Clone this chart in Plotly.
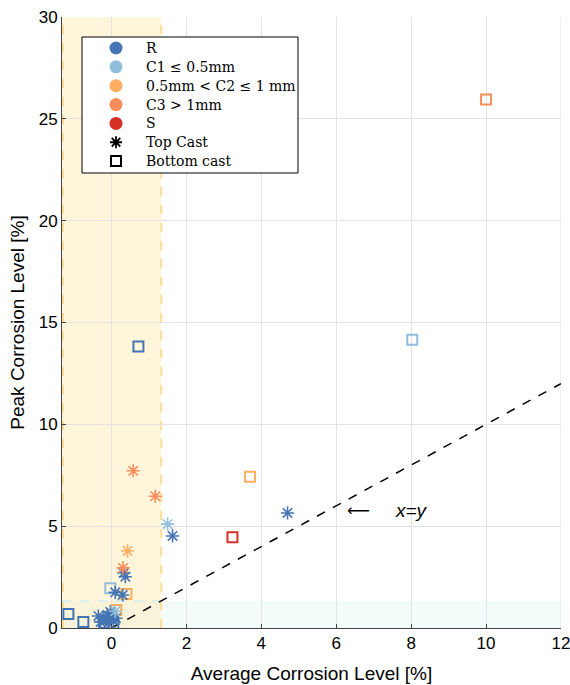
import plotly.graph_objects as go

# ---- data ----
categories = ["R", "C1", "C2", "C3", "S"]
legend_labels = ["R", "C1 ≤ 0.5mm", "0.5mm < C2 ≤ 1 mm", "C3 > 1mm", "S"]
colors = ["#4575b4", "#91bfdb", "#fdae61", "#fc8d59", "#d73027"]

# Top cast (asterisks): average, peak
top_R_x = [4.70, 1.63, 0.33, 0.37, 0.10, 0.30, -0.35, -0.29, -0.11, -0.03, 0.03, -0.16, -0.08, -0.21, 0.05, 0.12]
top_R_y = [5.65, 4.52, 2.70, 2.52, 1.75, 1.62, 0.59, 0.30, 0.64, 0.79, 0.54, 0.39, 0.25, 0.45, 0.35, 0.48]
top_C1_x = [1.50, 0.10]
top_C1_y = [5.10, 0.82]
top_C2_x = [0.43]
top_C2_y = [3.79]
top_C3_x = [0.58, 1.17, 0.31]
top_C3_y = [7.72, 6.47, 2.95]
top_S_x = []
top_S_y = []

# Bottom cast (squares)
bot_R_x = [0.72, -1.15, -0.75, -0.20, 0.05]
bot_R_y = [13.82, 0.69, 0.30, 0.25, 0.22]
bot_C1_x = [8.03, -0.03]
bot_C1_y = [14.15, 1.95]
bot_C2_x = [3.70, 0.40, 0.13]
bot_C2_y = [7.43, 1.67, 0.88]
bot_C3_x = [10.00]
bot_C3_y = [25.95]
bot_S_x = [3.23]
bot_S_y = [4.45]

identity_x = [0, 12]
identity_y = [0, 12]
threshold = 1.33
x_range = [-1.32, 12.0005]
y_range = [0, 30]
x_ticks = [0, 2, 4, 6, 8, 10, 12]
y_ticks = [0, 5, 10, 15, 20, 25, 30]

top = {"R": (top_R_x, top_R_y), "C1": (top_C1_x, top_C1_y), "C2": (top_C2_x, top_C2_y),
       "C3": (top_C3_x, top_C3_y), "S": (top_S_x, top_S_y)}
bot = {"R": (bot_R_x, bot_R_y), "C1": (bot_C1_x, bot_C1_y), "C2": (bot_C2_x, bot_C2_y),
       "C3": (bot_C3_x, bot_C3_y), "S": (bot_S_x, bot_S_y)}

# ---- layout constants (pixels) ----
W, H = 570, 685
ML, MR, MT, MB = 62, 9, 17, 57
PX0, PX1 = ML, W - MR          # plot area in pixels
PY0, PY1 = MT, H - MB
LEG_BOX = (82, 298, 37, 173)    # x0, x1, y0, y1
LEG_MX, LEG_TX = 116, 144
LEG_ROW0, LEG_DY = 48, 18.85

fig = go.Figure()

# shaded regions
fig.add_shape(type="rect", xref="x", yref="y", x0=x_range[0], x1=x_range[1], y0=0, y1=threshold,
              fillcolor="rgba(205,235,238,0.22)", line=dict(width=0), layer="below")
fig.add_shape(type="rect", xref="x", yref="y", x0=x_range[0], x1=threshold, y0=y_range[0], y1=y_range[1],
              fillcolor="rgba(254,232,175,0.45)", line=dict(width=0), layer="below")
fig.add_shape(type="line", xref="x", yref="y", x0=threshold, x1=threshold, y0=0, y1=30,
              line=dict(color="#fddc98", width=2, dash="dash"), layer="below")
fig.add_shape(type="line", xref="x", yref="y", x0=x_range[0] + 0.02, x1=x_range[0] + 0.02, y0=0, y1=30,
              line=dict(color="#fddc98", width=2.5, dash="dash"), layer="below")
fig.add_shape(type="line", xref="x", yref="y", x0=x_range[0], x1=threshold, y0=threshold, y1=threshold,
              line=dict(color="#dcefef", width=2, dash="dash"), layer="below")
# right-edge grid line (plotly skips the grid line on the range edge)
fig.add_shape(type="line", xref="x", yref="paper", x0=x_ticks[-1], x1=x_ticks[-1], y0=0, y1=1,
              line=dict(color="#e3e3e3", width=1), layer="below")

# identity line
fig.add_trace(go.Scatter(x=identity_x, y=identity_y, mode="lines",
                         line=dict(color="black", width=1.5, dash="dash"),
                         showlegend=False, hoverinfo="skip"))

for cat, col in zip(categories, colors):
    bx, by = bot[cat]
    fig.add_trace(go.Scatter(x=bx, y=by, mode="markers", showlegend=False,
                             marker=dict(symbol="square-open", size=10, color=col,
                                         line=dict(width=2, color=col))))
for cat, col in zip(categories, colors):
    tx, ty = top[cat]
    fig.add_trace(go.Scatter(x=tx, y=ty, mode="markers", showlegend=False,
                             marker=dict(symbol="asterisk-open", size=11, color=col,
                                         line=dict(width=1.6, color=col))))

# ---- manual legend on an overlay pixel axis ----
bx0, bx1, by0, by1 = LEG_BOX
fig.add_trace(go.Scatter(x=[bx0, bx1, bx1, bx0, bx0], y=[by0, by0, by1, by1, by0],
                         xaxis="x2", yaxis="y2", mode="lines", fill="toself",
                         fillcolor="white", line=dict(color="black", width=1),
                         showlegend=False, hoverinfo="skip"))
leg_items = legend_labels + ["Top Cast", "Bottom cast"]
leg_colors = colors + ["black", "black"]
leg_symbols = ["circle"] * 5 + ["asterisk-open", "square-open"]
for i, (lab, col, sym) in enumerate(zip(leg_items, leg_colors, leg_symbols)):
    yy = LEG_ROW0 + i * LEG_DY
    if sym == "circle":
        mk = dict(symbol=sym, size=13, color=col, line=dict(width=0))
    elif sym == "asterisk-open":
        mk = dict(symbol=sym, size=10, color=col, line=dict(width=1.8, color=col))
    else:
        mk = dict(symbol=sym, size=10, color=col, line=dict(width=2, color=col))
    fig.add_trace(go.Scatter(x=[LEG_MX], y=[yy], xaxis="x2", yaxis="y2", mode="markers",
                             marker=mk, showlegend=False, hoverinfo="skip"))
    fig.add_annotation(x=LEG_TX, y=yy, xref="x2", yref="y2", text=lab, showarrow=False,
                       xanchor="left", yanchor="middle",
                       font=dict(family="DejaVu Serif", size=14, color="black"))

fig.add_annotation(x=6.6, y=5.75, text="⟵", showarrow=False,
                   font=dict(family="DejaVu Sans", size=16, color="black"))
fig.add_annotation(x=8.0, y=5.75, text="<i>x=y</i>", showarrow=False,
                   font=dict(family="Liberation Sans", size=19, color="black"))

axis_common = dict(showgrid=True, gridcolor="#e3e3e3", gridwidth=1, zeroline=False,
                   showline=True, linecolor="#444", linewidth=1, ticks="inside",
                   ticklen=4, tickcolor="#444", ticklabeloverflow="allow",
                   automargin=False,
                   tickfont=dict(family="Liberation Sans", size=17, color="black"),
                   mirror=False)

fig.update_layout(
    width=W, height=H,
    margin=dict(l=ML, r=MR, t=MT, b=MB),
    paper_bgcolor="white", plot_bgcolor="white",
    xaxis=dict(range=x_range, tickvals=x_ticks,
               title=dict(text="Average Corrosion Level [%]", standoff=14,
                          font=dict(family="Liberation Sans", size=19, color="black")),
               **axis_common),
    yaxis=dict(range=y_range, tickvals=y_ticks,
               title=dict(text="Peak Corrosion Level [%]", standoff=9,
                          font=dict(family="Liberation Sans", size=19, color="black")),
               **axis_common),
    xaxis2=dict(overlaying="x", range=[PX0, PX1], visible=False, fixedrange=True),
    yaxis2=dict(overlaying="y", range=[PY1, PY0], visible=False, fixedrange=True),
    showlegend=False,
)

fig.write_html("out.html")
